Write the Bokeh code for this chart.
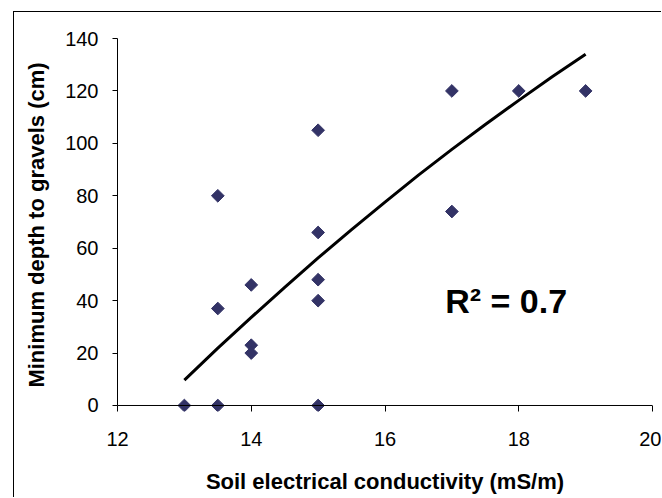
import math
from bokeh.plotting import figure
from bokeh.models import Range1d, FixedTicker, Label, Span
from bokeh.embed import file_html
from bokeh.resources import INLINE

# Data
conductivity = [13, 13.5, 15, 13.5, 13.5, 14, 14, 14, 15, 15, 15, 15, 17, 17, 18, 19]
depth = [0, 0, 0, 80, 37, 46, 23, 20, 105, 66, 48, 40, 120, 74, 120, 120]

trend_x = [13, 13.5, 14, 14.5, 15, 15.5, 16, 16.5, 17, 17.5, 18, 18.5, 19]
trend_y = [9.7, 21.9, 33.6, 45.1, 56.3, 67.1, 77.6, 87.9, 97.7, 107.2, 116.4, 125.4, 134]

x_ticks = [12, 14, 16, 18, 20]
y_ticks = [0, 20, 40, 60, 80, 100, 120, 140]

p = figure(width=648, height=486,
           x_range=Range1d(12, 20), y_range=Range1d(-2.29, 140),
           output_backend="svg", toolbar_location=None,
           min_border_left=103, min_border_right=10,
           min_border_top=26, min_border_bottom=87)
p.styles = {"margin-left": "13px", "margin-top": "11px",
            "border-left": "1px solid #000000", "border-top": "1px solid #000000"}

p.outline_line_color = None
p.grid.visible = False
p.background_fill_color = "white"
p.border_fill_color = "white"

FONT = "Liberation Sans"

xa = p.xaxis[0]
xa.ticker = FixedTicker(ticks=x_ticks)
xa.axis_label = "Soil electrical conductivity (mS/m)"
xa.axis_label_text_font = FONT
xa.axis_label_text_font_style = "bold"
xa.axis_label_text_font_size = "22px"
xa.axis_label_text_color = "black"
xa.axis_label_standoff = 20
xa.major_label_text_font = FONT
xa.major_label_text_font_size = "20px"
xa.major_label_text_color = "black"
xa.major_label_standoff = 20
xa.major_tick_out = 0
xa.major_tick_in = 6
xa.minor_tick_out = 0
xa.minor_tick_in = 0
xa.axis_line_color = None
xa.major_tick_line_color = "black"

ya = p.yaxis[0]
ya.bounds = (0, 140)
ya.ticker = FixedTicker(ticks=y_ticks)
ya.axis_label = "Minimum depth to gravels (cm)"
ya.axis_label_text_font = FONT
ya.axis_label_text_font_style = "bold"
ya.axis_label_text_font_size = "22px"
ya.axis_label_text_color = "black"
ya.axis_label_standoff = 13
ya.major_label_text_font = FONT
ya.major_label_text_font_size = "20px"
ya.major_label_text_color = "black"
ya.major_label_standoff = 14
ya.major_tick_out = 5
ya.major_tick_in = 0
ya.minor_tick_out = 0
ya.minor_tick_in = 0
ya.axis_line_color = "black"
ya.major_tick_line_color = "black"

# x axis line at y = 0
p.add_layout(Span(location=0, dimension="width", line_color="black", line_width=1))

p.line(trend_x, trend_y, line_color="black", line_width=3)
p.scatter(conductivity, depth, marker="square", size=9, angle=math.pi / 4,
          fill_color="#333366", line_color="#333366")

r2 = Label(x=16.9, y=39.8, text="R² = 0.7", text_font=FONT,
           text_font_style="bold", text_font_size="34px", text_color="black",
           text_baseline="middle", text_align="left")
p.add_layout(r2)

open("out.html", "w").write(file_html(p, INLINE))
